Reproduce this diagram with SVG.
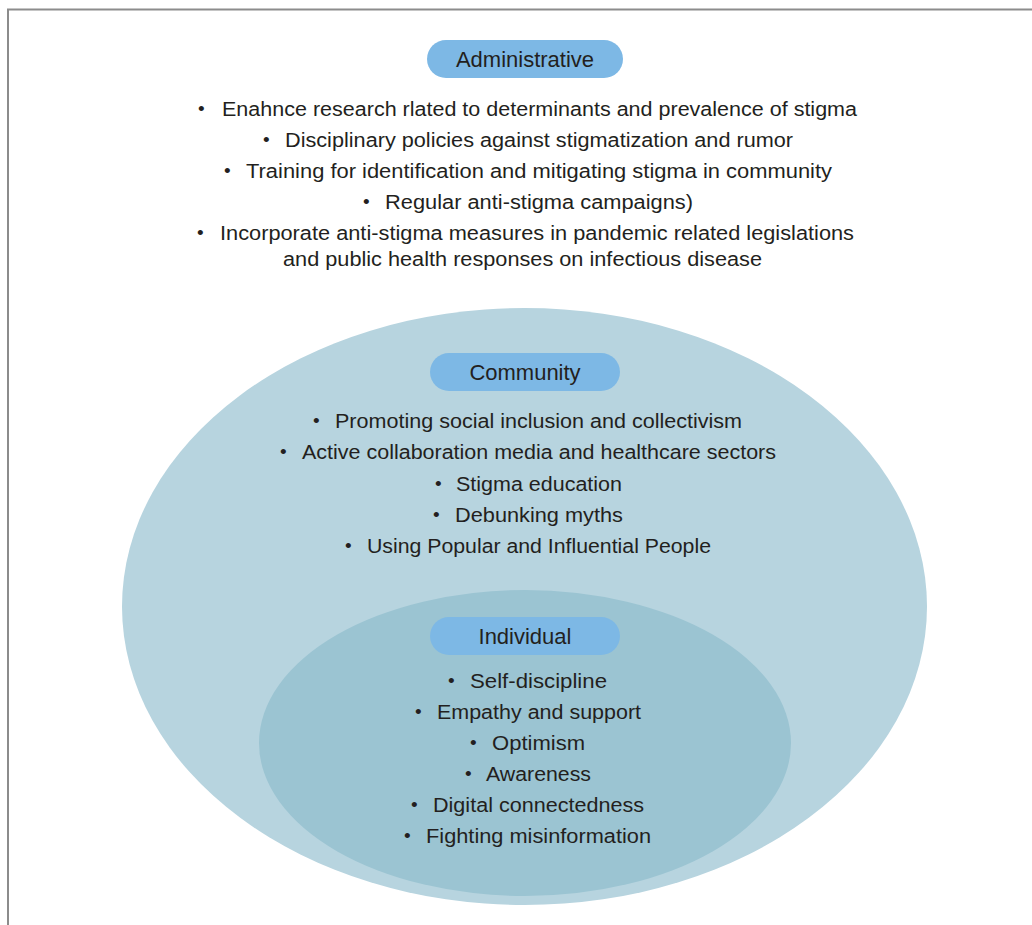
<svg xmlns="http://www.w3.org/2000/svg" width="1032" height="925" viewBox="0 0 1032 925">
  <style>
    .frame { fill: none; stroke: #8c8c8c; stroke-width: 2; }
    .pill { fill: #7db8e5; }
    .title { font-family: "Liberation Sans", "Noto Sans", sans-serif; font-size: 22px; fill: #231f20; text-anchor: middle; }
    .item { font-family: "Liberation Sans", "Noto Sans", sans-serif; font-size: 20px; fill: #231f20; }
    .dot { font-family: "Liberation Sans", sans-serif; font-size: 19px; fill: #231f20; }
  </style>

  <!-- page frame (top and left rules) -->
  <path class="frame" d="M8 925 V9.5 H1032"/>

  <!-- nested levels -->
  <ellipse id="community-area" cx="524.5" cy="606.5" rx="402.5" ry="298.5" fill="#b7d4df"/>
  <ellipse id="individual-area" cx="525" cy="743" rx="266" ry="153" fill="#9bc4d2"/>

  <g id="administrative">
    <rect class="pill" x="427" y="40" width="196" height="38" rx="19"/>
    <text class="title" x="525" y="67">Administrative</text>
    <text class="dot" x="198" y="115">•</text>
    <text class="item" x="222" y="116" textLength="635" lengthAdjust="spacingAndGlyphs">Enahnce research rlated to determinants and prevalence of stigma</text>
    <text class="dot" x="263" y="146">•</text>
    <text class="item" x="285" y="147" textLength="508" lengthAdjust="spacingAndGlyphs">Disciplinary policies against stigmatization and rumor</text>
    <text class="dot" x="224" y="177">•</text>
    <text class="item" x="246" y="178" textLength="586" lengthAdjust="spacingAndGlyphs">Training for identification and mitigating stigma in community</text>
    <text class="dot" x="363" y="208">•</text>
    <text class="item" x="385" y="209" textLength="308" lengthAdjust="spacingAndGlyphs">Regular anti-stigma campaigns)</text>
    <text class="dot" x="197" y="239">•</text>
    <text class="item" x="220" y="240" textLength="634" lengthAdjust="spacingAndGlyphs">Incorporate anti-stigma measures in pandemic related legislations</text>
    <text class="item" x="283" y="266" textLength="479" lengthAdjust="spacingAndGlyphs">and public health responses on infectious disease</text>
  </g>

  <g id="community">
    <rect class="pill" x="430" y="353" width="190" height="38" rx="19"/>
    <text class="title" x="525" y="380">Community</text>
    <text class="dot" x="313" y="427">•</text>
    <text class="item" x="335" y="428" textLength="407" lengthAdjust="spacingAndGlyphs">Promoting social inclusion and collectivism</text>
    <text class="dot" x="280" y="458">•</text>
    <text class="item" x="302" y="459" textLength="474" lengthAdjust="spacingAndGlyphs">Active collaboration media and healthcare sectors</text>
    <text class="dot" x="435" y="490">•</text>
    <text class="item" x="456" y="491" textLength="166" lengthAdjust="spacingAndGlyphs">Stigma education</text>
    <text class="dot" x="433" y="521">•</text>
    <text class="item" x="455" y="522" textLength="168" lengthAdjust="spacingAndGlyphs">Debunking myths</text>
    <text class="dot" x="345" y="552">•</text>
    <text class="item" x="367" y="553" textLength="344" lengthAdjust="spacingAndGlyphs">Using Popular and Influential People</text>
  </g>

  <g id="individual">
    <rect class="pill" x="430" y="617" width="190" height="38" rx="19"/>
    <text class="title" x="525" y="644">Individual</text>
    <text class="dot" x="448" y="687">•</text>
    <text class="item" x="470" y="688" textLength="137" lengthAdjust="spacingAndGlyphs">Self-discipline</text>
    <text class="dot" x="415" y="718">•</text>
    <text class="item" x="437" y="719" textLength="204" lengthAdjust="spacingAndGlyphs">Empathy and support</text>
    <text class="dot" x="470" y="749">•</text>
    <text class="item" x="492" y="750" textLength="93" lengthAdjust="spacingAndGlyphs">Optimism</text>
    <text class="dot" x="465" y="780">•</text>
    <text class="item" x="486" y="781" textLength="105" lengthAdjust="spacingAndGlyphs">Awareness</text>
    <text class="dot" x="411" y="811">•</text>
    <text class="item" x="433" y="812" textLength="211" lengthAdjust="spacingAndGlyphs">Digital connectedness</text>
    <text class="dot" x="404" y="842">•</text>
    <text class="item" x="426" y="843" textLength="225" lengthAdjust="spacingAndGlyphs">Fighting misinformation</text>
  </g>
</svg>
